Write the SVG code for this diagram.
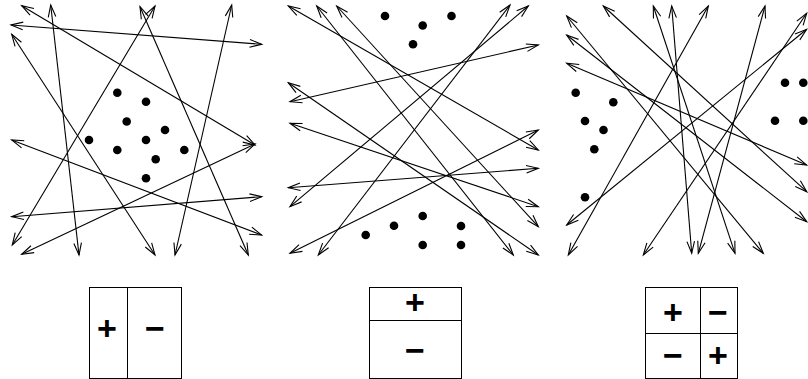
<svg xmlns="http://www.w3.org/2000/svg" width="808" height="379" viewBox="0 0 808 379">
<style>
.c{stroke:#000;stroke-width:1.1;fill:none;marker-start:url(#a);marker-end:url(#a)}
.d{fill:#000}
.b{fill:none;stroke:#000;stroke-width:1}
.s{font-family:"Liberation Sans",Arial,sans-serif;font-weight:bold;font-size:34px;text-anchor:middle}
</style>
<defs>
<marker id="a" markerWidth="16" markerHeight="10" refX="13" refY="5" orient="auto-start-reverse" markerUnits="userSpaceOnUse" viewBox="0 0 16 10">
<path d="M1,1.2 L13,5 L1,8.8" fill="none" stroke="#000" stroke-width="1.1"/>
</marker>
</defs>
<rect width="808" height="379" fill="#fff"/>
<g id="connectors">
<line class="c" x1="21.7" y1="5.7" x2="255" y2="145"/>
<line class="c" x1="50.7" y1="5" x2="79" y2="255"/>
<line class="c" x1="11" y1="25" x2="261.7" y2="44.3"/>
<line class="c" x1="11.7" y1="34.3" x2="155" y2="255"/>
<line class="c" x1="155" y1="6" x2="12.3" y2="245"/>
<line class="c" x1="140" y1="6.7" x2="248.3" y2="255"/>
<line class="c" x1="231.7" y1="5" x2="175" y2="255"/>
<line class="c" x1="11.7" y1="140" x2="261.7" y2="235"/>
<line class="c" x1="11.7" y1="216.7" x2="261.7" y2="196.7"/>
<line class="c" x1="21.7" y1="254.3" x2="255" y2="144"/>

<line class="c" x1="290" y1="101.7" x2="538.3" y2="45"/>
<line class="c" x1="288.3" y1="6" x2="538.3" y2="150"/>
<line class="c" x1="316.7" y1="6" x2="513.3" y2="255"/>
<line class="c" x1="336.7" y1="6" x2="538.3" y2="226.7"/>
<line class="c" x1="290" y1="123.3" x2="538.3" y2="206.7"/>
<line class="c" x1="288.3" y1="82.7" x2="538.3" y2="255"/>
<line class="c" x1="538.3" y1="168.3" x2="288.3" y2="187.7"/>
<line class="c" x1="538.3" y1="130" x2="290" y2="253.3"/>
<line class="c" x1="510" y1="5" x2="318.3" y2="255"/>
<line class="c" x1="528.3" y1="6" x2="290" y2="206.7"/>

<line class="c" x1="708.3" y1="6" x2="568.3" y2="255"/>
<line class="c" x1="806.7" y1="13.3" x2="643.3" y2="255"/>
<line class="c" x1="806.7" y1="29.3" x2="566.7" y2="225"/>
<line class="c" x1="765" y1="6" x2="698.3" y2="253.3"/>
<line class="c" x1="671.7" y1="6" x2="691.7" y2="253.3"/>
<line class="c" x1="653.3" y1="6" x2="735" y2="253.3"/>
<line class="c" x1="566.7" y1="16" x2="763.3" y2="253.3"/>
<line class="c" x1="603.3" y1="6" x2="806.7" y2="191.7"/>
<line class="c" x1="566.7" y1="35" x2="806.7" y2="221.7"/>
<line class="c" x1="566.7" y1="63.3" x2="806.7" y2="165"/>
</g>
<g id="dots1">
<circle class="d" cx="117.3" cy="92.7" r="4.3"/>
<circle class="d" cx="146" cy="101.7" r="4.3"/>
<circle class="d" cx="126.7" cy="121.5" r="4.3"/>
<circle class="d" cx="165" cy="130" r="4.3"/>
<circle class="d" cx="89" cy="140" r="4.3"/>
<circle class="d" cx="146" cy="140" r="4.3"/>
<circle class="d" cx="117.3" cy="150" r="4.3"/>
<circle class="d" cx="184.3" cy="150" r="4.3"/>
<circle class="d" cx="155.7" cy="159.3" r="4.3"/>
<circle class="d" cx="146" cy="178.3" r="4.3"/>
</g>
<g id="dots2">
<circle class="d" cx="385" cy="16" r="4.3"/>
<circle class="d" cx="422.7" cy="25.5" r="4.3"/>
<circle class="d" cx="451.5" cy="16" r="4.3"/>
<circle class="d" cx="413" cy="44.3" r="4.3"/>
<circle class="d" cx="365.7" cy="235" r="4.3"/>
<circle class="d" cx="394" cy="225.7" r="4.3"/>
<circle class="d" cx="422.7" cy="216" r="4.3"/>
<circle class="d" cx="461" cy="226" r="4.3"/>
<circle class="d" cx="422.7" cy="245" r="4.3"/>
<circle class="d" cx="461" cy="245" r="4.3"/>
</g>
<g id="dots3">
<circle class="d" cx="575.7" cy="92.7" r="4.3"/>
<circle class="d" cx="613.3" cy="102.3" r="4.3"/>
<circle class="d" cx="585" cy="121" r="4.3"/>
<circle class="d" cx="603.5" cy="130" r="4.3"/>
<circle class="d" cx="594.3" cy="149.3" r="4.3"/>
<circle class="d" cx="585" cy="197.3" r="4.3"/>
<circle class="d" cx="785" cy="82.7" r="4.3"/>
<circle class="d" cx="803.3" cy="82.7" r="4.3"/>
<circle class="d" cx="775" cy="120.7" r="4.3"/>
<circle class="d" cx="803.3" cy="120.7" r="4.3"/>
</g>
<g id="box1">
<rect class="b" x="89.5" y="287.5" width="92" height="91"/>
<line class="b" x1="127.5" y1="287.5" x2="127.5" y2="378.5"/>
<text class="s" x="107" y="340">+</text>
<text class="s" x="155" y="340">−</text>
</g>
<g id="box2">
<rect class="b" x="369.5" y="287.5" width="92" height="91"/>
<line class="b" x1="369.5" y1="320.5" x2="461.5" y2="320.5"/>
<text class="s" x="415" y="314">+</text>
<text class="s" x="415" y="362">−</text>
</g>
<g id="box3">
<rect class="b" x="645.5" y="287.5" width="92" height="91"/>
<line class="b" x1="700.5" y1="287.5" x2="700.5" y2="378.5"/>
<line class="b" x1="645.5" y1="333.5" x2="737.5" y2="333.5"/>
<text class="s" x="673" y="324">+</text>
<text class="s" x="718" y="324">−</text>
<text class="s" x="673" y="367">−</text>
<text class="s" x="718" y="367">+</text>
</g>
</svg>
